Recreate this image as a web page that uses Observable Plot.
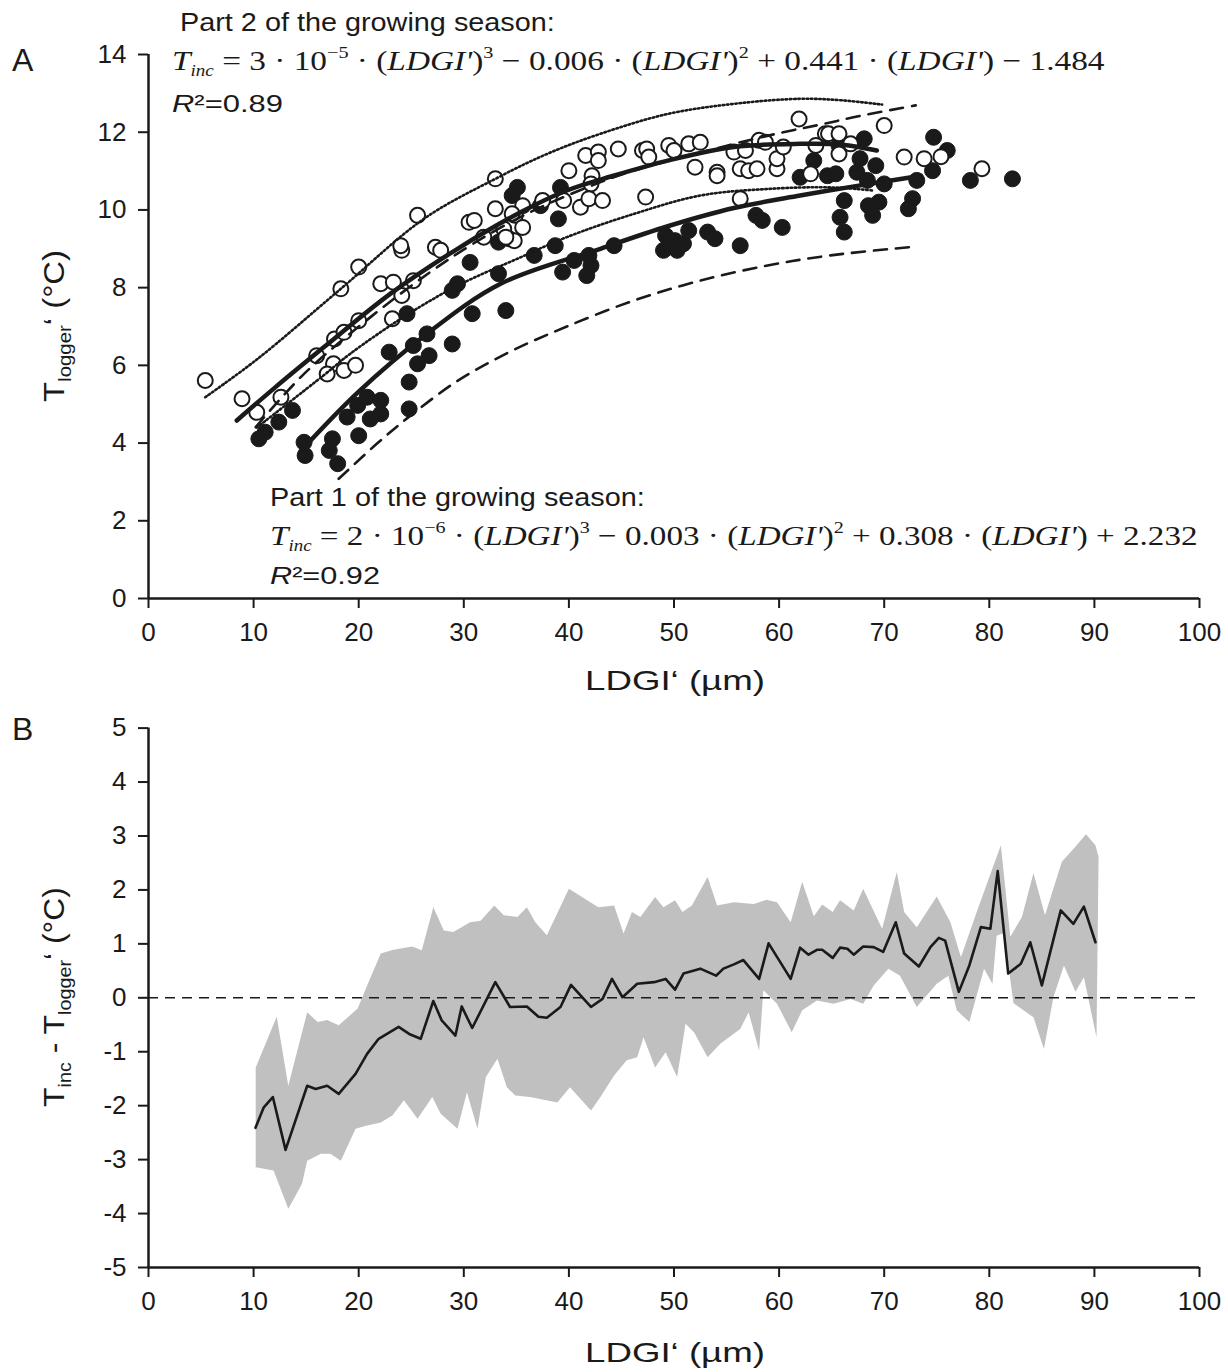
<!DOCTYPE html>
<html><head><meta charset="utf-8">
<script src="https://cdn.jsdelivr.net/npm/d3@7"></script>
<script src="https://cdn.jsdelivr.net/npm/@observablehq/plot@0.6"></script>
<style>
body{margin:0;background:#fff;}
#wrap{position:relative;width:1228px;height:1372px;overflow:hidden;background:#fff;}
#wrap svg{position:absolute;left:0;}
</style></head><body><div id="wrap"></div>
<script>
// ---------- Panel A data ----------
const xTicks = [0,10,20,30,40,50,60,70,80,90,100];
const yTicksA = [0,2,4,6,8,10,12,14];
const yTicksB = [-5,-4,-3,-2,-1,0,1,2,3,4,5];

// Part 2 of the growing season (open circles)
const part2X = [5.4,8.9,10.3,12.6,16.0,17.7,18.6,20.0,17.6,17.0,18.6,19.7,18.3,20.0,22.1,23.3,24.1,23.2,25.2,24.1,24.0,25.6,27.3,27.8,30.5,31.0,33.0,31.9,33.0,33.8,34.3,34.9,40.0,41.6,42.8,42.8,44.7,47.0,47.4,47.6,49.5,50.0,51.4,52.5,52.0,54.1,54.1,56.3,57.1,57.9,59.8,59.8,55.7,56.8,58.1,58.7,60.4,61.9,64.4,63.5,63.0,47.3,56.3,42.2,42.1,41.1,41.9,43.2,39.5,37.5,35.6,35.6,34.8,34.0,34.6,64.7,65.7,66.8,65.7,70.0,71.9,73.8,75.4,79.3];
const part2Y = [5.61,5.14,4.79,5.18,6.25,6.68,6.85,7.15,6.04,5.78,5.87,6.00,7.97,8.53,8.10,8.14,7.80,7.20,8.18,8.96,9.08,9.86,9.04,8.96,9.68,9.73,10.80,9.30,10.03,9.51,9.26,9.86,11.01,11.40,11.49,11.27,11.57,11.53,11.57,11.36,11.66,11.53,11.70,11.74,11.10,10.97,10.88,11.06,11.01,11.06,11.06,11.32,11.49,11.53,11.79,11.74,11.62,12.34,11.96,11.66,10.93,10.33,10.29,10.88,10.67,10.07,10.29,10.24,10.24,10.24,10.11,9.55,9.21,9.30,9.90,11.96,11.96,11.70,11.44,12.17,11.36,11.32,11.37,11.06];

// Part 1 of the growing season (filled circles)
const part1X = [10.5,11.1,12.4,13.7,14.8,14.9,17.2,18.0,17.5,20.0, 18.9,19.9,20.8,22.1,22.1,21.1,24.8,24.8,22.9,25.2, 26.5,26.7,25.6,28.9,24.6,28.9,29.4,30.8,34.0,30.6, 33.3,34.6,35.1,33.3,39.2,39.0,37.3,38.7,36.7, 40.5,39.4,41.9,42.1,41.7,44.3,49.2,49.0,50.3,50.1, 50.9,51.4,53.2,53.9,56.3,57.8,58.4,60.3,63.3,62.0, 64.6,65.7,68.1,67.7,69.2,65.4,67.4,70.0,68.4,66.2, 68.5,69.5,68.9,65.8,66.2,72.7,72.3,73.1,74.6,74.7, 76.0,78.2,82.2];
const part1Y = [4.11,4.28,4.54,4.84,4.02,3.68,3.81,3.47,4.11,4.19, 4.67,4.97,5.18,5.10,4.75,4.62,4.88,5.57,6.34,6.51, 6.81,6.25,6.04,6.55,7.33,7.93,8.10,7.33,7.41,8.65, 8.36,10.37,10.58,9.17,10.58,9.77,10.11,9.08,8.83, 8.70,8.40,8.83,8.57,8.31,9.08,9.34,8.96,8.96,9.21, 9.13,9.47,9.43,9.26,9.08,9.86,9.73,9.55,11.27,10.84, 10.88,11.66,11.83,11.32,11.14,10.93,10.97,10.67,10.76,10.24, 10.11,10.20,9.86,9.81,9.43,10.29,10.03,10.76,11.01,11.87, 11.53,10.76,10.80];

// fitted curve, part 2 (solid) and its bands (dotted)
const fit2X = [8.4,12,16.7,23,29.4,35.4,39.8,44,49.4,55.7,62,66,69.3];
const fit2Y = [4.58,5.42,6.47,7.84,9.0,9.94,10.5,10.86,11.27,11.62,11.7,11.68,11.53];
const hi2X = [5.4,10.3,18.3,26.2,33,38,43,49.4,55.7,62,66,69.8];
const hi2Y = [5.18,6.15,7.97,9.77,10.8,11.45,11.96,12.47,12.73,12.86,12.82,12.71];
const lo2X = [10.3,16.7,19.2,24.3,29.4,35.4,39.8,46.2,52.5,58.9,64.9,68.9];
const lo2Y = [4.4,5.75,6.3,7.25,8.05,8.78,9.3,9.9,10.37,10.54,10.58,10.5];

// fitted curve, part 1 (solid) and its bands (dashed)
const fit1X = [14.5,19.9,26.2,33.5,43,49.4,55.7,62,67,73.5];
const fit1Y = [3.8,5.3,6.75,8.1,9.0,9.58,10.05,10.37,10.6,10.88];
const hi1X = [10.2,14.8,21.3,26.8,31,36,41,46,52.2,55.7,60.4,64,67.7,73];
const hi1Y = [4.41,5.78,7.28,8.4,9.15,9.9,10.5,11.0,11.45,11.7,12.0,12.2,12.42,12.69];
const lo1X = [18.1,21.8,24.9,29.4,34.4,39.8,46.2,52.5,58.9,64.9,73.1];
const lo1Y = [3.08,4.0,4.7,5.6,6.35,7.0,7.67,8.18,8.57,8.83,9.06];

// ---------- Panel B data ----------
const diffX = [10.18,10.97,11.83,13.04,15.1,15.9,17.0,18.1,19.7,20.8,21.9,23.8,24.8,25.9,27.1,27.9,29.2,29.8,30.8,33.0,34.4,36.0,37.1,37.9,39.2,40.2,42.1,43.2,44.1,45.1,46.5,48.1,49.2,50.1,50.9,52.5,54.0,54.7,55.7,56.6,58.1,59.0,61.1,62.0,62.8,63.6,64.1,65.1,65.8,66.5,67.1,68.0,69.0,69.9,71.1,71.9,73.3,74.4,75.2,75.8,77.1,78.1,79.2,80.1,80.8,81.8,83.0,83.9,85.0,86.8,88.0,89.0,90.1];
const diffY = [-2.41,-2.03,-1.84,-2.82,-1.63,-1.69,-1.63,-1.78,-1.41,-1.04,-0.76,-0.54,-0.67,-0.76,-0.06,-0.42,-0.70,-0.16,-0.56,0.29,-0.17,-0.16,-0.35,-0.37,-0.17,0.24,-0.17,-0.02,0.35,0.01,0.26,0.29,0.35,0.15,0.45,0.54,0.41,0.54,0.62,0.70,0.35,1.01,0.35,0.93,0.80,0.89,0.89,0.74,0.93,0.91,0.80,0.95,0.94,0.85,1.40,0.82,0.58,0.94,1.11,1.06,0.11,0.60,1.31,1.28,2.35,0.45,0.63,1.03,0.23,1.62,1.37,1.69,1.03];
const hiBX = [10.2,12.2,13.3,15.1,16.1,17.0,18.1,19.9,20.8,22.1,23.3,25.1,26.0,27.1,28.1,29.0,30.6,31.6,32.9,33.8,35.1,36.0,36.8,37.9,40.0,42.8,44.3,45.2,46.0,46.8,48.2,49.0,50.1,50.8,51.7,53.2,54.1,55.7,57.6,58.8,59.8,61.1,62.2,63.3,64.1,65.1,65.8,67.1,68.0,69.8,71.2,71.9,73.1,75.0,76.3,77.3,78.8,81.1,82.0,83.1,84.2,85.3,86.9,88.0,89.2,90.1,90.4];
const hiBY = [-1.29,-0.35,-1.63,-0.27,-0.45,-0.41,-0.51,-0.20,0.23,0.82,0.89,0.95,0.88,1.68,1.25,1.22,1.40,1.43,1.71,1.53,1.50,1.68,1.40,1.16,2.02,1.68,1.71,1.19,1.59,1.50,1.87,1.68,1.81,1.59,1.71,2.24,1.71,1.77,1.74,1.82,1.77,1.40,2.15,1.51,1.73,1.59,1.81,1.62,2.02,1.28,2.33,1.59,1.31,1.88,1.40,0.75,1.59,2.83,1.13,1.50,2.31,1.53,2.52,2.76,3.03,2.83,2.61];
const loBX = [10.2,11.9,13.3,14.6,15.1,16.4,17.3,18.3,19.7,20.7,22.1,23.2,24.3,25.6,27.0,27.8,29.4,30.3,31.3,32.1,33.2,34.1,34.9,36.3,38.9,40.1,42.1,43.0,44.3,45.5,46.5,47.1,48.2,49.2,50.3,51.1,51.9,53.2,54.4,56.3,57.1,58.1,58.5,59.8,61.2,62.2,63.6,65.2,66.8,68.0,69.0,70.4,71.5,73.1,75.0,76.1,76.9,78.1,79.5,80.3,80.7,81.4,82.3,84.2,85.2,86.1,87.1,88.2,89.0,90.2];
const loBY = [-3.14,-3.20,-3.91,-3.45,-3.02,-2.89,-2.89,-3.02,-2.43,-2.37,-2.31,-2.18,-1.90,-2.24,-1.84,-2.15,-2.43,-1.75,-2.43,-1.47,-1.13,-1.66,-1.81,-1.84,-1.94,-1.66,-2.09,-1.84,-1.44,-1.16,-1.10,-0.73,-1.29,-1.01,-1.47,-0.48,-0.64,-1.10,-0.85,-0.58,-0.27,-0.98,0.14,-0.11,-0.64,-0.23,-0.05,-0.11,-0.02,-0.11,0.23,0.54,0.41,-0.17,0.26,0.41,-0.23,-0.45,0.54,0.26,1.15,1.2,-0.1,-0.36,-0.95,0.01,0.60,0.11,0.38,-0.73];

// ---------- helpers ----------
const ink = "#1a1a1a";
const sans = "'Liberation Sans', Arial, Helvetica, sans-serif";
const serif = "'Liberation Serif', 'Times New Roman', serif";
const pts = (xs, ys) => xs.map((x, i) => ({x, y: ys[i]}));
const wrap = document.getElementById("wrap");

function place(svg, o) {
  const g = d3.select(svg).append("g");
  const t = g.append("text").attr("font-family", o.family).attr("font-size", o.size)
    .attr("fill", ink).attr("text-anchor", o.anchor || "start").attr("x", 0).attr("y", 0);
  let cur = 0;
  for (const p of o.parts) {
    const s = p.s || 0;
    const ts = t.append("tspan").attr("dy", s - cur).text(p.t);
    cur = s;
    if (p.i) ts.attr("font-style", "italic");
    if (p.z) ts.attr("font-size", p.z);
  }
  let sx = 1;
  if (o.target) { const w = t.node().getBBox().width; if (w > 0) sx = o.target / w; }
  g.attr("transform", `translate(${o.x},${o.y}) rotate(${o.rotate || 0}) scale(${sx},1)`);
}

const axisStyle = {fontFamily: sans, color: ink, background: "transparent", overflow: "visible"};
const fmt = d => String(d);
const dotted = {stroke: ink, strokeWidth: 2.6, strokeDasharray: "1.6,2.6", curve: "catmull-rom"};
const dashed = {stroke: ink, strokeWidth: 2.6, strokeDasharray: "13,9", curve: "catmull-rom"};

// ---------- Panel A ----------
const plotA = Plot.plot({
  width: 1228, height: 700,
  marginLeft: 148, marginRight: 29, marginTop: 54, marginBottom: 102,
  x: {domain: [0, 100]}, y: {domain: [0, 14]},
  style: axisStyle,
  marks: [
    Plot.dot(pts(part1X, part1Y), {x: "x", y: "y", r: 8, fill: ink, stroke: ink, strokeWidth: 1}),
    Plot.dot(pts(part2X, part2Y), {x: "x", y: "y", r: 7.5, fill: "white", stroke: ink, strokeWidth: 2}),
    Plot.line(pts(hi2X, hi2Y), {x: "x", y: "y", ...dotted}),
    Plot.line(pts(lo2X, lo2Y), {x: "x", y: "y", ...dotted}),
    Plot.line(pts(hi1X, hi1Y), {x: "x", y: "y", ...dashed}),
    Plot.line(pts(lo1X, lo1Y), {x: "x", y: "y", ...dashed}),
    Plot.line(pts(fit2X, fit2Y), {x: "x", y: "y", stroke: ink, strokeWidth: 4.5, curve: "catmull-rom"}),
    Plot.line(pts(fit1X, fit1Y), {x: "x", y: "y", stroke: ink, strokeWidth: 4.5, curve: "catmull-rom"}),
    Plot.axisX(xTicks, {tickSize: 10, tickPadding: 14, fontSize: 26, label: null, strokeWidth: 2, tickFormat: fmt}),
    Plot.axisY(yTicksA, {tickSize: 10, tickPadding: 12, fontSize: 26, label: null, strokeWidth: 2, tickFormat: fmt}),
    Plot.ruleX([0], {y1: 0, y2: 14, stroke: ink, strokeWidth: 2.5}),
    Plot.ruleY([0], {x1: 0, x2: 100, stroke: ink, strokeWidth: 2.5})
  ]
});
plotA.style.top = "0px";
wrap.appendChild(plotA);

// ---------- Panel B ----------
const band = pts(hiBX, hiBY).concat(pts(loBX, loBY).reverse());
const plotB = Plot.plot({
  width: 1228, height: 672,
  marginLeft: 148, marginRight: 29, marginTop: 27.6, marginBottom: 105,
  x: {domain: [0, 100]}, y: {domain: [-5, 5]},
  style: axisStyle,
  marks: [
    Plot.line(band, {x: "x", y: "y", fill: "#c0c0c0", stroke: "none"}),
    Plot.ruleY([0], {x1: 0, x2: 100, stroke: ink, strokeWidth: 1.6, strokeDasharray: "10,7"}),
    Plot.line(pts(diffX, diffY), {x: "x", y: "y", stroke: ink, strokeWidth: 2.6}),
    Plot.axisX(xTicks, {tickSize: 10, tickPadding: 14, fontSize: 26, label: null, strokeWidth: 2, tickFormat: fmt}),
    Plot.axisY(yTicksB, {tickSize: 10, tickPadding: 12, fontSize: 26, label: null, strokeWidth: 2, tickFormat: fmt}),
    Plot.ruleX([0], {y1: -5, y2: 5, stroke: ink, strokeWidth: 2.5}),
    Plot.ruleY([-5], {x1: 0, x2: 100, stroke: ink, strokeWidth: 2.5})
  ]
});
plotB.style.top = "700px";
wrap.appendChild(plotB);

// ---------- Texts, panel A ----------
place(plotA, {x: 12, y: 71, family: sans, size: 32, parts: [{t: "A"}]});
place(plotA, {x: 180, y: 31, family: sans, size: 25, target: 375, parts: [{t: "Part 2 of the growing season:"}]});
const formula = (a, b, c, d, sa, sd) => [
  {t: "T", i: 1}, {t: "inc", i: 1, z: 16, s: 6},
  {t: " = " + a + " · 10"}, {t: b, z: 17, s: -12},
  {t: " · ("}, {t: "LDGI'", i: 1}, {t: ")"}, {t: "3", z: 17, s: -12},
  {t: " " + sa + " " + c + " · ("}, {t: "LDGI'", i: 1}, {t: ")"}, {t: "2", z: 17, s: -12},
  {t: " + " + d + " · ("}, {t: "LDGI'", i: 1}, {t: ") " + sd}
];
place(plotA, {x: 172, y: 70, family: serif, size: 28, target: 933,
  parts: formula("3", "−5", "0.006", "0.441", "−", "− 1.484")});
place(plotA, {x: 172, y: 112, family: sans, size: 24, target: 111, parts: [{t: "R", i: 1}, {t: "²=0.89"}]});
place(plotA, {x: 270, y: 506, family: sans, size: 25, target: 375, parts: [{t: "Part 1 of the growing season:"}]});
place(plotA, {x: 270, y: 545, family: serif, size: 28, target: 928,
  parts: formula("2", "−6", "0.003", "0.308", "−", "+ 2.232")});
place(plotA, {x: 270, y: 584, family: sans, size: 24, target: 110, parts: [{t: "R", i: 1}, {t: "²=0.92"}]});
place(plotA, {x: 675, y: 690, family: sans, size: 28, anchor: "middle", target: 180, parts: [{t: "LDGI‘ (µm)"}]});
place(plotA, {x: 64, y: 326, rotate: -90, family: sans, size: 29, anchor: "middle", target: 152,
  parts: [{t: "T"}, {t: "logger", z: 18, s: 7}, {t: "‘", s: 0}, {t: " (°C)"}]});

// ---------- Texts, panel B ----------
place(plotB, {x: 12, y: 40, family: sans, size: 32, parts: [{t: "B"}]});
place(plotB, {x: 675, y: 662, family: sans, size: 28, anchor: "middle", target: 180, parts: [{t: "LDGI‘ (µm)"}]});
place(plotB, {x: 64, y: 297, rotate: -90, family: sans, size: 29, anchor: "middle", target: 220,
  parts: [{t: "T"}, {t: "inc", z: 18, s: 7}, {t: " - T", s: 0}, {t: "logger", z: 18, s: 7}, {t: "‘", s: 0}, {t: " (°C)"}]});
</script></body></html>
